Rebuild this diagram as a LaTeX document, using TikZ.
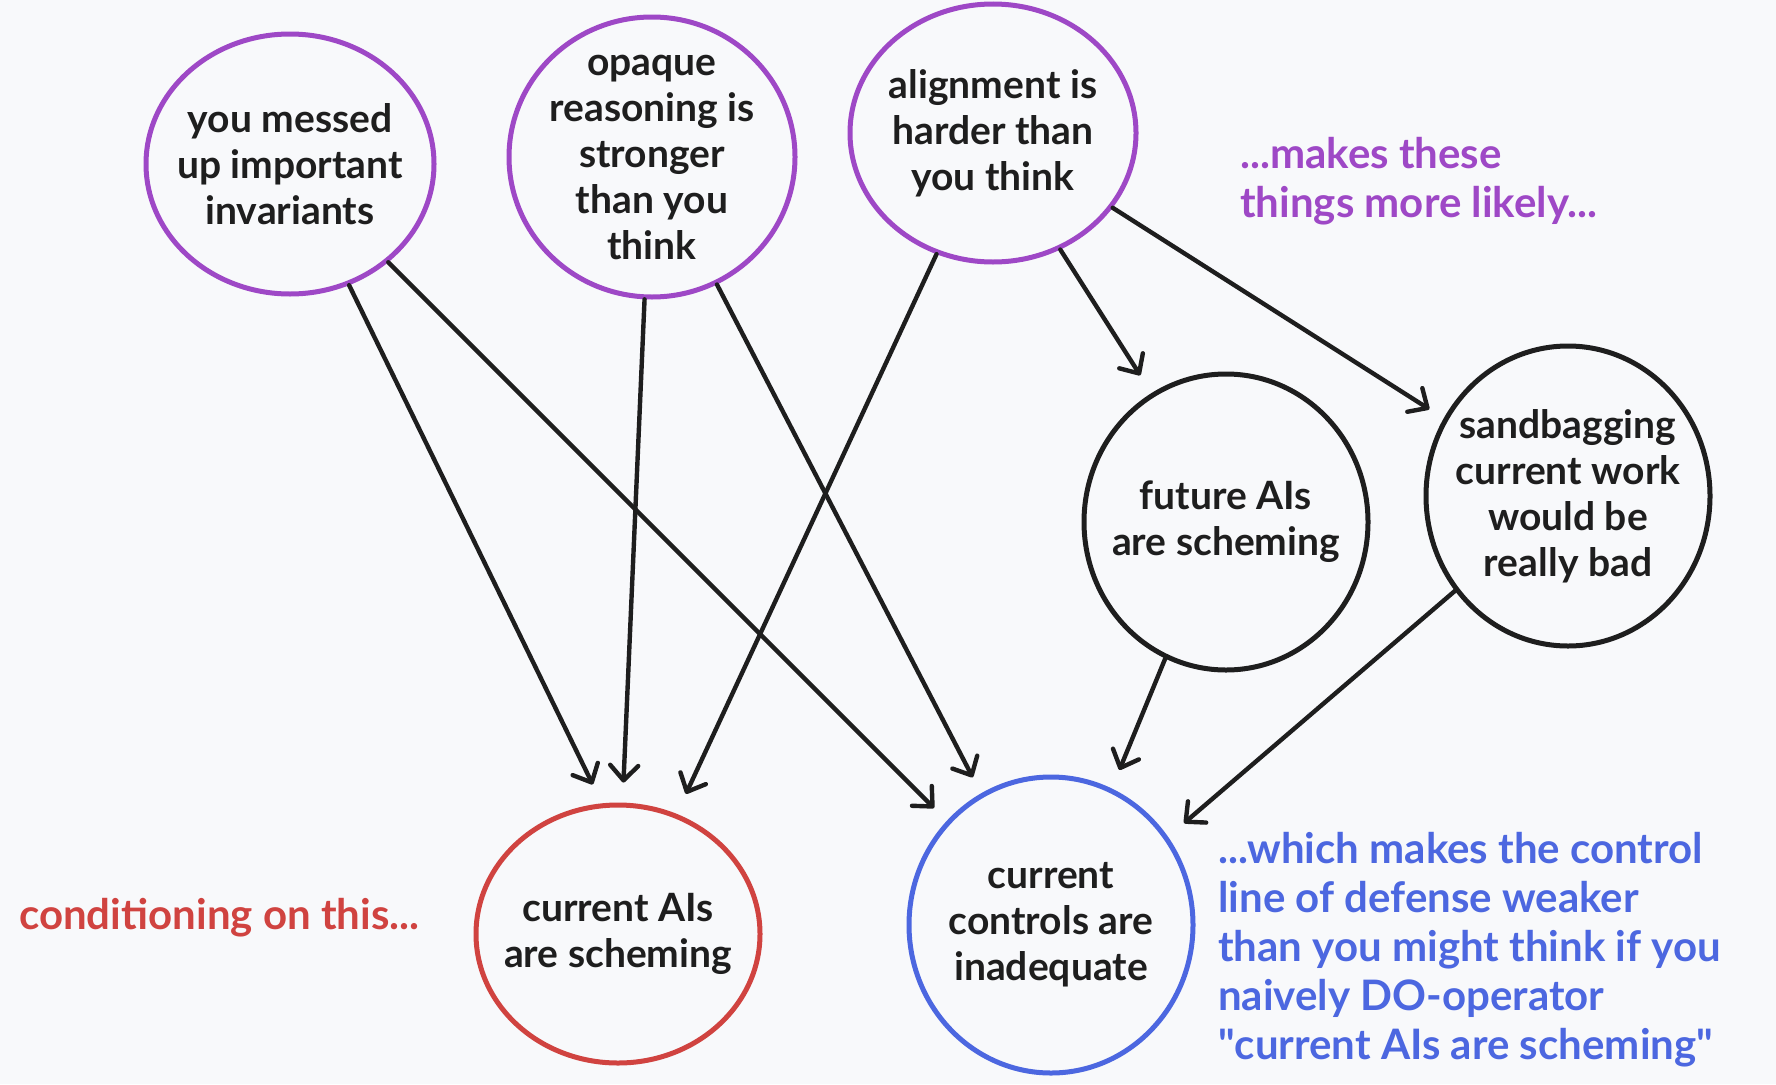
\documentclass[tikz,border=0pt]{standalone}
\usepackage{fontspec}
\setmainfont{Lato}
\newfontfamily\rawlato{Lato}
\usetikzlibrary{shapes.geometric,arrows.meta}
\definecolor{bg}{HTML}{F8F9FB}
\definecolor{ink}{HTML}{1E1E1E}
\definecolor{purp}{HTML}{9E48C6}
\definecolor{redc}{HTML}{D04340}
\definecolor{bluec}{HTML}{4C67E0}
\newcommand{\sq}{{\rawlato\bfseries"}}
\begin{document}
\begin{tikzpicture}[x=1pt,y=-1pt,
  blob/.style={ellipse, draw, line width=5pt, inner sep=0pt},
  lbl/.style={align=center, font=\fontsize{39}{46}\selectfont\bfseries, text=ink, inner sep=0pt},
  conn/.style={draw=ink, line width=4.4pt, line cap=round, -{Straight Barb[length=15pt,width=28pt,round]}},
  note/.style={align=left, anchor=west, font=\fontsize{42}{49}\selectfont\bfseries, inner sep=0pt}]

\fill[bg] (0,0) rectangle (1776,1084);
\useasboundingbox (0,0) rectangle (1776,1084);

\node[blob, draw=purp, minimum width=288pt, minimum height=260pt,
  label={[lbl]center:{you messed\\up important\\invariants}}] (A) at (290,164) {};
\node[blob, draw=purp, minimum width=286pt, minimum height=280pt,
  label={[lbl]center:{opaque\\reasoning is\\stronger\\than you\\think}}] (B) at (652,157) {};
\node[blob, draw=purp, minimum width=286pt, minimum height=258pt,
  label={[lbl]center:{alignment is\\harder than\\you think}}] (C) at (993,133) {};
\node[blob, draw=ink, minimum width=284pt, minimum height=296pt,
  label={[lbl]center:{future AIs\\are scheming}}] (F) at (1226,522) {};
\node[blob, draw=ink, minimum width=284pt, minimum height=300pt,
  label={[lbl]center:{sandbagging\\current work\\would be\\really bad}}] (S) at (1568,496) {};
\node[blob, draw=redc, minimum width=284pt, minimum height=258pt,
  label={[lbl]center:{current AIs\\are scheming}}] (R) at (618,934) {};
\node[blob, draw=bluec, minimum width=284pt, minimum height=296pt,
  label={[lbl]center:{current\\controls are\\inadequate}}] (K) at (1051,925) {};

\draw[conn, shorten >=21pt] (A.296) -- (R.97);
\draw[conn, shorten >=18pt] (A.315) -- (K.135);
\draw[conn, shorten >=20pt] (B.267) -- (R.88);
\draw[conn, shorten >=18pt] (B.297) -- (K.118);
\draw[conn, shorten >=22pt] (C.245) -- (R.64);
\draw[conn, shorten >=21pt] (C.300) -- (F.120);
\draw[conn, shorten >=17pt] (C.328) -- (S.148);
\draw[conn, shorten >=20pt] (F.246) -- (K.66);
\draw[conn, shorten >=21pt] (S.220) -- (K.37);

\node[note, text=purp] (n1) at (1240,181) {...makes these\\things more likely...};
\node[note, text=redc] (n2) at (19,918) {conditioning on this...};
\node[note, text=bluec] (n3) at (1218,950) {...which makes the control\\line of defense weaker\\than you might think if you\\naively DO-operator\\\sq current AIs are scheming\sq};
\end{tikzpicture}
\end{document}
